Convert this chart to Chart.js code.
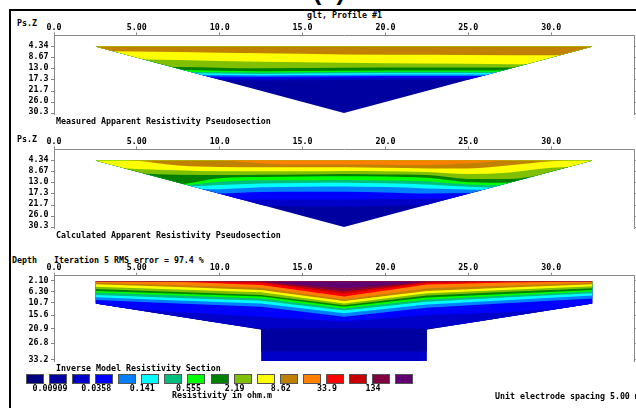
<!DOCTYPE html>
<html>
<head>
<meta charset="utf-8">
<script src="https://cdn.jsdelivr.net/npm/chart.js@4.4.1/dist/chart.umd.min.js"></script>
<style>
  html, body { margin: 0; padding: 0; background: #fff; width: 636px; height: 408px; overflow: hidden; }
  #page { position: relative; width: 636px; height: 408px; overflow: hidden; background: #fff; }
  .t { position: absolute; font: bold 8.3px 'DejaVu Sans Mono', monospace; line-height: 10px; white-space: pre; color: #000; }
  .big { position: absolute; font: bold 25px 'Liberation Sans', Arial, sans-serif; line-height: 25px; white-space: pre; color: #000; }
  canvas { position: absolute; left: 0; }
  .frame { position: absolute; left: 9px; top: 9px; width: 640px; height: 420px; border-left: 2px solid #000; border-top: 2px solid #000; }
  .sw { position: absolute; top: 374px; width: 18px; height: 10px; box-sizing: border-box; border: 1px solid #555; }
  .lab { position: absolute; width: 60px; text-align: center; }
</style>
</head>
<body>
<div id="page">
  <div class="big" style="left:313px;top:-21.5px;">(b)</div>
  <div class="frame"></div>
  <div class="t" style="left:307px;top:9.7px;">glt, Profile #1</div>

  <div class="t" style="left:17px;top:18px;">Ps.Z</div>
  <canvas id="measured"></canvas>
  <div class="t" style="left:56px;top:115.7px;">Measured Apparent Resistivity Pseudosection</div>

  <div class="t" style="left:17px;top:133.5px;">Ps.Z</div>
  <canvas id="calculated"></canvas>
  <div class="t" style="left:56px;top:229.7px;">Calculated Apparent Resistivity Pseudosection</div>

  <div class="t" style="left:12px;top:254.9px;">Depth</div>
  <div class="t" style="left:54px;top:254.9px;">Iteration 5 RMS error = 97.4 %</div>
  <canvas id="model"></canvas>
  <div class="t" style="left:56px;top:362.7px;">Inverse Model Resistivity Section</div>

  <div id="legend"></div>
  <div class="t" style="left:172px;top:390.2px;">Resistivity in ohm.m</div>
  <div class="t" style="left:495px;top:390.7px;">Unit electrode spacing 5.00 m</div>
</div>

<script>
// Resistivity classes (ohm.m), lowest to highest
const palette = ['#000080', '#0000A0', '#0000C8', '#0000FF', '#0080FF', '#00FFFF', '#00C080', '#00FF00',
                 '#008000', '#80C000', '#FFFF00', '#C08000', '#FF8000', '#FF0000', '#C80000', '#800040', '#600070'];
const legendLabels = ['0.00909', '0.0358', '0.141', '0.555', '2.19', '8.62', '33.9', '134'];

// Horizontal axis (electrode position)
const xTickValues = [0, 5, 10, 15, 20, 25, 30];
const xTickLabels = ['0.0', '5.00', '10.0', '15.0', '20.0', '25.0', '30.0'];

// Pseudodepth levels and model layer depths
const pseudoLevels = [4.34, 8.67, 13.0, 17.3, 21.7, 26.0, 30.3];
const pseudoLevelLabels = ['4.34', '8.67', '13.0', '17.3', '21.7', '26.0', '30.3'];
const modelDepths = [2.10, 6.30, 10.7, 15.6, 20.9, 26.8, 33.2];
const modelDepthLabels = ['2.10', '6.30', '10.7', '15.6', '20.9', '26.8', '33.2'];

// Data coverage outlines (position, depth)
const pseudoOutlineX = [2.5, 32.5, 17.5];
const pseudoOutlineZ = [4.34, 4.34, 30.3];
const modelOutlineX = [2.5, 32.5, 32.5, 22.5, 22.5, 12.5, 12.5, 2.5];
const modelOutlineZ = [2.3, 2.3, 11.0, 21.3, 33.8, 33.8, 21.3, 11.0];

// Measured apparent resistivity: class of each zone (top down) and its lower depth at each position
const measuredX = [2.5, 7.5, 12.5, 17.5, 22.5, 27.5, 32.5];
const measuredClass = [11, 10, 9, 8, 7, 6, 5, 4, 3, 2, 1];
const measuredLower = [
  [6.2, 6.5, 7.0, 7.4, 7.5, 7.7, 7.7],
  [9.0, 9.6, 10.3, 10.7, 11.0, 11.2, 11.2],
  [12.0, 12.3, 12.8, 12.6, 12.5, 12.5, 12.5],
  [13.3, 13.5, 14.0, 13.8, 13.7, 13.7, 13.7],
  [14.0, 14.2, 14.5, 14.3, 14.2, 14.2, 14.2],
  [14.6, 14.7, 15.0, 14.8, 14.7, 14.7, 14.7],
  [15.1, 15.2, 15.5, 15.3, 15.2, 15.2, 15.2],
  [15.7, 15.8, 16.1, 15.9, 15.8, 15.8, 15.8],
  [16.4, 16.5, 16.8, 16.6, 16.5, 16.5, 16.5],
  [17.2, 17.3, 17.6, 17.4, 17.3, 17.3, 17.3],
  [31, 31, 31, 31, 31, 31, 31]
];

// Calculated apparent resistivity
const calculatedX = [2.5, 5, 7.5, 10, 12.5, 15, 17.5, 20, 22.5, 25, 27.5, 30, 32.5];
const calculatedClass = [12, 11, 10, 9, 8, 7, 6, 5, 4, 3, 2, 1];
const calculatedLower = [
  [4.0, 4.0, 4.0, 4.2, 5.4, 5.9, 5.9, 6.0, 6.1, 5.4, 4.3, 4.0, 4.0],
  [4.0, 4.4, 6.3, 6.9, 7.0, 7.0, 7.0, 7.2, 7.4, 7.4, 6.2, 4.6, 4.0],
  [6.8, 7.6, 8.1, 8.5, 8.5, 8.5, 8.4, 8.5, 8.8, 9.6, 9.0, 7.2, 6.5],
  [8.6, 9.3, 9.9, 10.0, 9.9, 9.8, 9.6, 9.8, 10.0, 11.5, 11.5, 9.5, 8.5],
  [9.8, 10.8, 13.5, 11.2, 10.8, 10.6, 10.5, 10.6, 11.1, 12.8, 13.0, 11.0, 9.8],
  [11.0, 12.0, 14.0, 12.6, 12.0, 12.0, 11.9, 12.1, 12.4, 13.7, 14.0, 12.0, 11.0],
  [12.0, 13.0, 14.5, 13.9, 13.3, 13.1, 13.0, 13.2, 13.7, 14.6, 15.0, 13.0, 12.0],
  [13.0, 14.0, 15.0, 15.5, 14.8, 14.6, 14.5, 14.7, 15.2, 15.6, 16.0, 14.0, 13.0],
  [14.0, 15.0, 16.0, 17.2, 16.6, 16.5, 16.5, 16.8, 17.2, 17.0, 17.0, 15.0, 14.0],
  [16.0, 17.0, 18.0, 19.5, 19.5, 19.5, 19.5, 19.3, 19.2, 19.0, 19.0, 17.0, 16.0],
  [19.0, 20.0, 21.0, 22.0, 22.0, 22.2, 22.4, 22.0, 21.8, 21.0, 21.0, 19.0, 19.0],
  [31, 31, 31, 31, 31, 31, 31, 31, 31, 31, 31, 31, 31]
];

// Inverse model resistivity
const modelX = [2.5, 7.5, 12.5, 17.5, 22.5, 27.5, 32.5];
const modelClass = [16, 15, 14, 13, 12, 11, 10, 9, 8, 7, 6, 5, 4, 3, 2, 1, 2];
const modelLower = [
  [2.3, 2.3, 2.3, 5.0, 2.3, 2.3, 2.3],
  [2.3, 2.3, 2.5, 6.3, 2.5, 2.3, 2.3],
  [2.3, 2.3, 2.9, 7.2, 2.9, 2.3, 2.3],
  [2.3, 2.4, 3.7, 8.3, 3.5, 2.7, 2.3],
  [2.8, 3.8, 4.8, 9.4, 5.0, 3.9, 2.8],
  [3.4, 4.5, 5.7, 10.0, 6.1, 4.7, 3.4],
  [4.4, 5.5, 6.6, 11.0, 7.0, 5.6, 4.2],
  [5.3, 6.5, 7.7, 11.7, 7.9, 6.4, 5.0],
  [6.1, 7.2, 8.3, 12.3, 8.7, 7.2, 5.7],
  [6.7, 7.9, 9.0, 13.0, 9.4, 7.9, 6.3],
  [7.7, 8.8, 9.9, 13.8, 10.3, 8.6, 7.0],
  [8.6, 9.8, 11.0, 14.9, 11.4, 9.6, 7.9],
  [9.6, 11.0, 12.3, 16.3, 12.7, 10.8, 9.0],
  [12.0, 14.5, 16.3, 18.2, 15.6, 14.5, 12.0],
  [14.0, 17.0, 21.0, 20.9, 21.0, 17.0, 14.0],
  [30.1, 30.1, 30.1, 30.1, 30.1, 30.1, 30.1],
  [35, 35, 35, 35, 35, 35, 35]
];

const axisGray = '#8a8a8a';
const tickFont = { family: "'DejaVu Sans Mono', monospace", size: 8.3, weight: 'bold', lineHeight: 1 };

// Clips the colour zones to the section's data coverage
const outlineClip = {
  id: 'outlineClip',
  beforeDatasetsDraw(chart, args, opts) {
    const { ctx, scales } = chart;
    ctx.save();
    ctx.beginPath();
    opts.xs.forEach((v, i) => {
      const px = scales.x.getPixelForValue(v);
      const py = scales.y.getPixelForValue(opts.zs[i]);
      if (i === 0) ctx.moveTo(px, py); else ctx.lineTo(px, py);
    });
    ctx.closePath();
    ctx.clip();
  },
  afterDatasetsDraw(chart) {
    chart.ctx.restore();
  }
};

function section(id, o) {
  const cv = document.getElementById(id);
  const canvasTop = Math.floor(o.areaTop) - 16;
  const h = Math.ceil(o.areaBottom) - canvasTop + 10;
  cv.style.top = canvasTop + 'px';
  cv.width = 636;
  cv.height = h;
  const axisH = o.areaTop - canvasTop;
  const padBottom = canvasTop + h - o.areaBottom;

  const datasets = o.classes.map((c, i) => ({
    data: o.xs.map((x, j) => ({ x: x, y: o.lower[i][j] })),
    backgroundColor: palette[c],
    borderColor: 'rgba(0,0,0,0)',
    borderWidth: 0,
    pointRadius: 0,
    tension: o.smooth ? 0.4 : 0,
    cubicInterpolationMode: o.smooth ? 'monotone' : 'default',
    fill: { value: 0 }
  }));

  const levelTicks = s => { s.ticks = o.levels.map(v => ({ value: v })); };

  new Chart(cv, {
    type: 'line',
    data: { datasets },
    plugins: [outlineClip],
    options: {
      responsive: false,
      animation: false,
      devicePixelRatio: 1,
      layout: { padding: { left: 0, right: 0, top: 0, bottom: padBottom } },
      plugins: {
        legend: { display: false },
        tooltip: { enabled: false },
        outlineClip: { xs: o.outlineX, zs: o.outlineZ }
      },
      scales: {
        x: {
          type: 'linear', position: 'top', min: 0, max: 35,
          afterBuildTicks: s => { s.ticks = xTickValues.map(v => ({ value: v })); },
          afterFit: s => { s.height = axisH; },
          grid: { drawOnChartArea: false, drawTicks: true, tickLength: 3, color: axisGray },
          border: { color: axisGray, width: 1 },
          ticks: { font: tickFont, color: '#000', padding: 0.3, maxRotation: 0, autoSkip: false,
                   callback: (v, i) => xTickLabels[i] }
        },
        y: {
          type: 'linear', position: 'left', reverse: true, min: 0, max: o.yMax,
          afterBuildTicks: levelTicks,
          afterFit: s => { s.width = 54; },
          grid: { drawOnChartArea: false, drawTicks: true, tickLength: 3, color: axisGray },
          border: { color: axisGray, width: 1 },
          ticks: { font: tickFont, color: '#000', padding: 2.5, autoSkip: false, labelOffset: o.labelOffset,
                   callback: (v, i) => o.levelLabels[i] }
        },
        y2: {
          type: 'linear', position: 'right', reverse: true, min: 0, max: o.yMax,
          afterBuildTicks: levelTicks,
          afterFit: s => { s.width = 2; },
          grid: { drawOnChartArea: false, drawTicks: true, tickLength: 2, color: axisGray },
          border: { color: axisGray, width: 1 },
          ticks: { display: false }
        }
      }
    }
  });
}

section('measured', {
  areaTop: 35.4, areaBottom: 35.4 + 30.9 * 2.565, yMax: 30.9,
  levels: pseudoLevels, levelLabels: pseudoLevelLabels, labelOffset: -1,
  xs: measuredX, classes: measuredClass, lower: measuredLower, smooth: true,
  outlineX: pseudoOutlineX, outlineZ: pseudoOutlineZ
});

section('calculated', {
  areaTop: 149.4, areaBottom: 149.4 + 30.9 * 2.565, yMax: 30.9,
  levels: pseudoLevels, levelLabels: pseudoLevelLabels, labelOffset: -1,
  xs: calculatedX, classes: calculatedClass, lower: calculatedLower, smooth: true,
  outlineX: pseudoOutlineX, outlineZ: pseudoOutlineZ
});

section('model', {
  areaTop: 275.7, areaBottom: 275.7 + 34 * 2.52, yMax: 34,
  levels: modelDepths, levelLabels: modelDepthLabels, labelOffset: 0,
  xs: modelX, classes: modelClass, lower: modelLower, smooth: false,
  outlineX: modelOutlineX, outlineZ: modelOutlineZ
});

// Colour scale
const legend = document.getElementById('legend');
palette.forEach((col, i) => {
  const d = document.createElement('div');
  d.className = 'sw';
  d.style.left = Math.round(26 + 23.07 * i) + 'px';
  d.style.background = col;
  legend.appendChild(d);
});
legendLabels.forEach((txt, k) => {
  const d = document.createElement('div');
  d.className = 't lab';
  d.style.left = (26 + 23.07 * (2 * k + 1) - 29) + 'px';
  d.style.top = '383.2px';
  d.textContent = txt;
  legend.appendChild(d);
});
</script>
</body>
</html>
